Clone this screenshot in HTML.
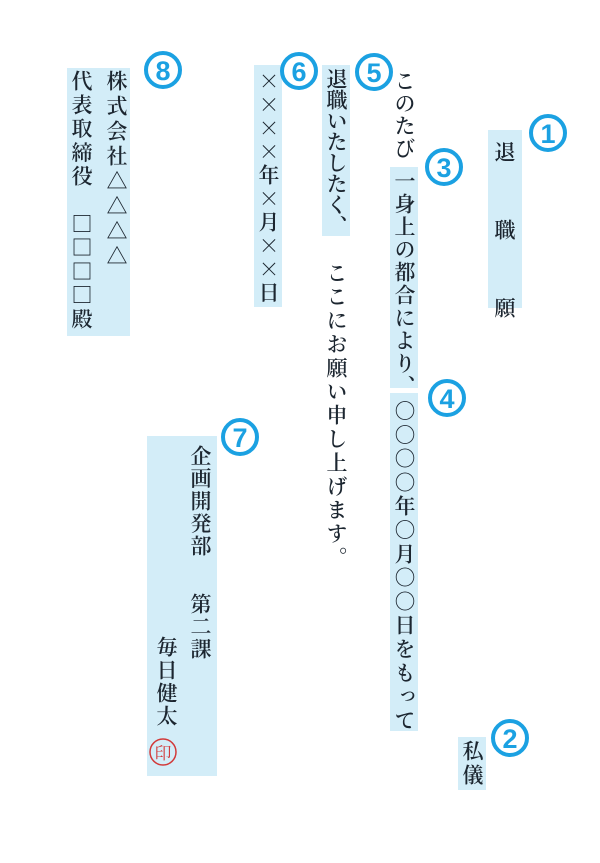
<!DOCTYPE html>
<html><head><meta charset="utf-8"><style>
body{margin:0;background:#fff;width:600px;height:863px;position:relative;overflow:hidden}
.b{position:absolute;background:#d3edf8}
.c{position:absolute;writing-mode:vertical-rl;font-family:"Noto Serif CJK JP","Noto Serif CJK SC",serif;font-size:21px;line-height:22px;color:#1c2630;white-space:pre;font-weight:600}
svg{position:absolute;left:0;top:0}
</style></head><body>
<div class="b" style="left:488px;top:130px;width:34px;height:178px"></div>
<div class="b" style="left:390px;top:167px;width:28px;height:221px"></div>
<div class="b" style="left:390px;top:393px;width:28px;height:338px"></div>
<div class="b" style="left:458px;top:737px;width:28px;height:53px"></div>
<div class="b" style="left:322px;top:65px;width:28px;height:171px"></div>
<div class="b" style="left:254px;top:65px;width:28px;height:242px"></div>
<div class="b" style="left:67px;top:68px;width:63px;height:268px"></div>
<div class="b" style="left:147px;top:436px;width:70px;height:340px"></div>

<div class="c" style="left:494px;top:141px;letter-spacing:57px">退職願</div>
<div class="c" style="left:394px;top:70px;letter-spacing:1.5px">このたび</div>
<div class="c" style="left:394px;top:170px;letter-spacing:1.8px">一身上の都合により、</div>
<div class="c" style="left:394px;top:400px;letter-spacing:2.8px">○○○○年○月○○日をもって</div>
<div class="c" style="left:462px;top:740px;letter-spacing:3px">私儀</div>
<div class="c" style="left:326px;top:68px;letter-spacing:0px">退職いたしたく、</div>
<div class="c" style="left:326px;top:262px;letter-spacing:2.7px">ここにお願い申し上げます。</div>
<div class="c" style="left:258px;top:70px;letter-spacing:2.5px">××××年×月××日</div>
<div class="c" style="left:106px;top:70px;letter-spacing:4px">株式会社△△△△</div>
<div class="c" style="left:71px;top:70px;letter-spacing:2.8px">代表取締役　□□□□殿</div>
<div class="c" style="left:190px;top:445px;letter-spacing:1.5px">企画開発部</div>
<div class="c" style="left:190px;top:593px;letter-spacing:1.5px">第二課</div>
<div class="c" style="left:156px;top:636px;letter-spacing:2px">毎日健太</div>

<svg width="600" height="863" font-family="Liberation Sans,sans-serif" font-weight="bold" font-size="27" fill="#1ba1e2" text-anchor="middle">
<g fill="none" stroke="#1ba1e2" stroke-width="4">
<circle cx="548" cy="133" r="17"/><circle cx="510" cy="738" r="17"/>
<circle cx="444" cy="167" r="17"/><circle cx="447" cy="398" r="17"/>
<circle cx="374" cy="72" r="17"/><circle cx="299" cy="71" r="17"/>
<circle cx="240" cy="437" r="17"/><circle cx="163" cy="70" r="17"/>
</g>
<text x="548" y="143">1</text><text x="510" y="748">2</text>
<text x="444" y="177">3</text><text x="447" y="408">4</text>
<text x="374" y="82">5</text><text x="299" y="81">6</text>
<text x="240" y="447">7</text><text x="163" y="80">8</text>
<circle cx="163" cy="752" r="13" fill="none" stroke="#d23a3a" stroke-width="1.5"/>
<text x="163" y="759" font-size="17" font-weight="normal" fill="#d23a3a" font-family="Noto Serif CJK JP,serif">印</text>
</svg>
</body></html>
